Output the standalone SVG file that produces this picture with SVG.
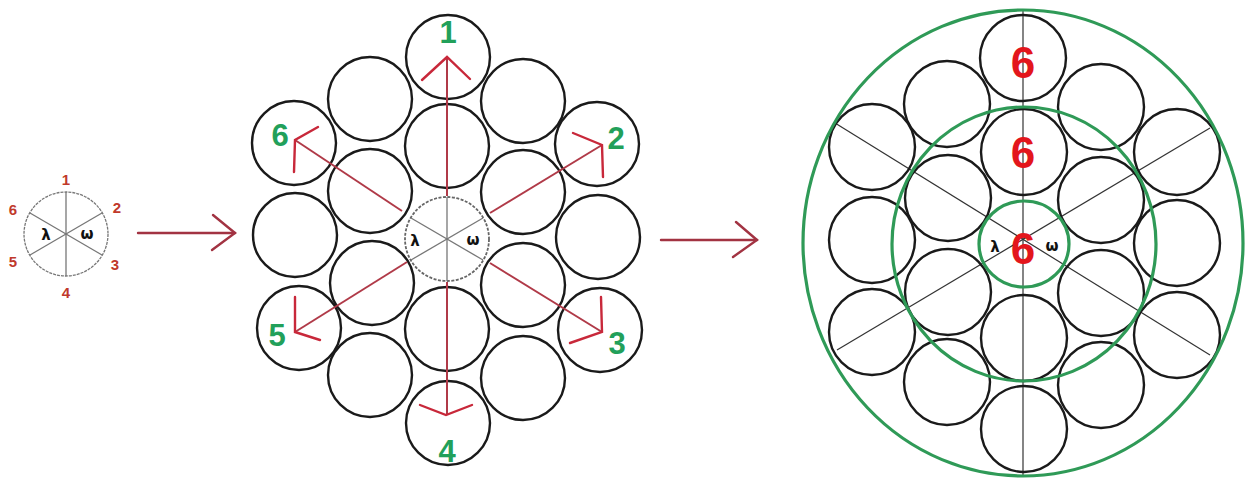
<svg xmlns="http://www.w3.org/2000/svg" width="1245" height="478" viewBox="0 0 1245 478">
<style>
.c{fill:none;stroke:#1a1a1a;stroke-width:2.4}
.g{fill:none;stroke:#2f9a57;stroke-width:3.2}
.thin{stroke:#333;stroke-width:1.2;fill:none}
.grey{stroke:#777;stroke-width:1.3;fill:none}
.red{stroke:#c8283a;stroke-width:2.4;fill:none;stroke-linecap:round}
.redl{stroke:#b03a48;stroke-width:2;fill:none}
.conn{stroke:#a23342;stroke-width:2.4;fill:none;stroke-linecap:round}
.sn{font-family:"Liberation Sans",Arial,sans-serif;font-weight:bold;font-size:15px;fill:#c0392b;text-anchor:middle}
.gn{font-family:"Liberation Sans",Arial,sans-serif;font-weight:bold;font-size:31px;fill:#22a05a;text-anchor:middle}
.rn{font-family:"Liberation Sans",Arial,sans-serif;font-weight:bold;font-size:44px;fill:#e3161c;text-anchor:middle}
.sym{font-family:"DejaVu Sans",sans-serif;font-weight:bold;font-size:15px;fill:#111;text-anchor:middle}
</style>

<!-- small key circle -->
<g id="key">
  <circle cx="66" cy="234" r="42" class="grey" stroke-dasharray="3 1"/>
  <line x1="66" y1="192" x2="66" y2="276" class="grey"/>
  <line x1="30" y1="213" x2="102" y2="255" class="grey"/>
  <line x1="30" y1="255" x2="102" y2="213" class="grey"/>
  <text x="46" y="240" class="sym">λ</text>
  <text x="87" y="239" class="sym">ω</text>
  <text x="66" y="185" class="sn">1</text>
  <text x="117" y="213" class="sn">2</text>
  <text x="115" y="270" class="sn">3</text>
  <text x="66" y="298" class="sn">4</text>
  <text x="13" y="267" class="sn">5</text>
  <text x="13" y="215" class="sn">6</text>
</g>

<!-- middle hex diagram -->
<g id="middle">
  <circle cx="448" cy="57" r="42" class="c"/>
  <circle cx="370" cy="99" r="42" class="c"/>
  <circle cx="523" cy="101" r="42" class="c"/>
  <circle cx="294" cy="143" r="42" class="c"/>
  <circle cx="597" cy="144" r="42" class="c"/>
  <circle cx="447" cy="146" r="42" class="c"/>
  <circle cx="370" cy="191" r="42" class="c"/>
  <circle cx="523" cy="192" r="42" class="c"/>
  <circle cx="295" cy="235" r="42" class="c"/>
  <circle cx="598" cy="237" r="42" class="c"/>
  <circle cx="372" cy="283" r="42" class="c"/>
  <circle cx="523" cy="285" r="42" class="c"/>
  <circle cx="299" cy="328" r="42" class="c"/>
  <circle cx="600" cy="330" r="42" class="c"/>
  <circle cx="447" cy="329" r="42" class="c"/>
  <circle cx="370" cy="375" r="42" class="c"/>
  <circle cx="523" cy="378" r="42" class="c"/>
  <circle cx="448" cy="423" r="42" class="c"/>
  <g id="middle-center">
    <circle cx="447" cy="239" r="42" fill="#fff" stroke="#666" stroke-width="1.8" stroke-dasharray="3 1.5"/>
    <line x1="447" y1="197" x2="447" y2="281" class="grey"/>
    <line x1="411" y1="218" x2="483" y2="260" class="grey"/>
    <line x1="411" y1="260" x2="483" y2="218" class="grey"/>
    <text x="415" y="246" class="sym">λ</text>
    <text x="473" y="245" class="sym">ω</text>
  </g>
  <text x="448" y="43" class="gn">1</text>
  <text x="616" y="149" class="gn">2</text>
  <text x="617" y="354" class="gn">3</text>
  <text x="447" y="462" class="gn">4</text>
  <text x="277" y="346" class="gn">5</text>
  <text x="280" y="146" class="gn">6</text>
</g>

<!-- right diagram -->
<g id="right">
  <line x1="1023" y1="10" x2="1023" y2="476" class="thin"/>
  <line x1="835" y1="123" x2="1210" y2="355" class="thin"/>
  <line x1="837" y1="350" x2="1210" y2="128" class="thin"/>
  <circle cx="1023" cy="58" r="43" class="c"/>
  <circle cx="947" cy="104" r="43" class="c"/>
  <circle cx="1101" cy="107" r="43" class="c"/>
  <circle cx="872" cy="147" r="43" class="c"/>
  <circle cx="1177" cy="152" r="43" class="c"/>
  <circle cx="1024" cy="152" r="43" class="c"/>
  <circle cx="948" cy="198" r="43" class="c"/>
  <circle cx="1101" cy="200" r="43" class="c"/>
  <circle cx="872" cy="240" r="43" class="c"/>
  <circle cx="1177" cy="243" r="43" class="c"/>
  <circle cx="948" cy="292" r="43" class="c"/>
  <circle cx="1101" cy="293" r="43" class="c"/>
  <circle cx="872" cy="332" r="43" class="c"/>
  <circle cx="1177" cy="335" r="43" class="c"/>
  <circle cx="1024" cy="338" r="43" class="c"/>
  <circle cx="947" cy="382" r="43" class="c"/>
  <circle cx="1101" cy="385" r="43" class="c"/>
  <circle cx="1024" cy="429" r="43" class="c"/>
  <ellipse cx="1023" cy="243" rx="220" ry="233" class="g"/>
  <ellipse cx="1024" cy="244" rx="132" ry="137" class="g"/>
  <ellipse cx="1024" cy="244" rx="45" ry="43" class="g"/>
  <text x="995" y="252" class="sym">λ</text>
  <text x="1052" y="251" class="sym">ω</text>
  <text x="1023" y="78" class="rn">6</text>
  <text x="1023" y="168" class="rn">6</text>
  <text x="1023" y="264" class="rn">6</text>
</g>

<!-- connectors -->
<g id="connectors">
  <line x1="138" y1="233" x2="235" y2="233" class="conn"/>
  <polyline points="213,215 235,233 212,250" class="conn"/>
  <line x1="661" y1="240" x2="757" y2="240" class="conn"/>
  <polyline points="736,222 757,240 733,257" class="conn"/>
  <!-- direction arrows in middle diagram -->
  <line x1="447" y1="57" x2="447" y2="196" class="redl"/>
  <line x1="447" y1="282" x2="447" y2="415" class="redl"/>
  <line x1="402" y1="211" x2="295" y2="140" class="redl"/>
  <line x1="490" y1="213" x2="602" y2="145" class="redl"/>
  <line x1="407" y1="262" x2="295" y2="332" class="redl"/>
  <line x1="490" y1="263" x2="602" y2="332" class="redl"/>
  <polyline points="422,80 447,57 470,79" class="red"/>
  <polyline points="420,405 446,415 472,405" class="red"/>
  <polyline points="573,133 602,145 603,177" class="red"/>
  <polyline points="318,127 295,140 294,172" class="red"/>
  <polyline points="295,297 295,332 320,340" class="red"/>
  <polyline points="601,297 602,332 570,343" class="red"/>
</g>
</svg>
